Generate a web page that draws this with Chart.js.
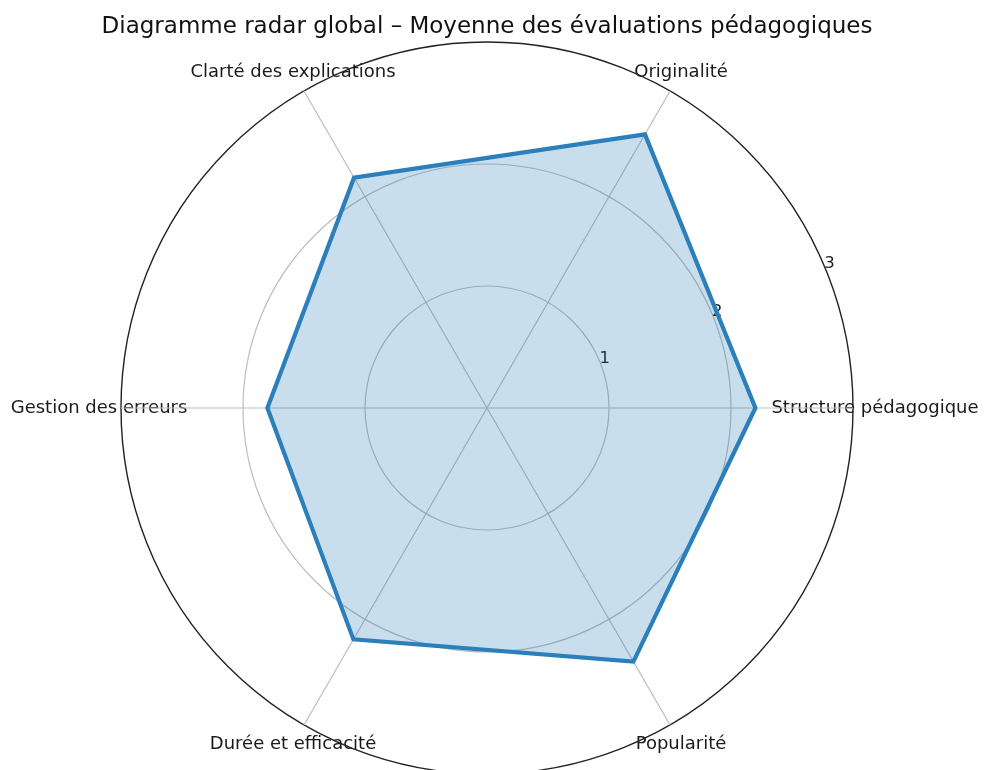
<!DOCTYPE html>
<html>
<head>
<meta charset="utf-8">
<script src="https://cdn.jsdelivr.net/npm/chart.js@4/dist/chart.umd.min.js"></script>
<style>
  html, body { margin: 0; padding: 0; background: #fff; overflow: hidden; }
  #wrap { width: 984px; height: 780px; position: relative; }
</style>
</head>
<body>
<div id="wrap"><canvas id="radar"></canvas></div>
<script>
// categories in matplotlib order (counter-clockwise from the right)
const categories = [
  "Structure pédagogique",
  "Originalité",
  "Clarté des explications",
  "Gestion des erreurs",
  "Durée et efficacité",
  "Popularité"
];
const moyennes = [2.2, 2.59, 2.18, 1.8, 2.19, 2.4];
const tickValues = [1, 2, 3];
const rMax = 3;

// chart.js goes clockwise, so flip the order but keep the first one at the right
const order = [0, 5, 4, 3, 2, 1];
const labels = order.map(i => categories[i]);
const values = order.map(i => moyennes[i]);

const labelFont = '18px "DejaVu Sans", sans-serif';

// axis labels centred on their spoke, like matplotlib does
const spokeLabels = {
  id: "spokeLabels",
  beforeDraw(chart) {
    const scale = chart.scales.r;
    const ctx = chart.ctx;
    ctx.save();
    ctx.font = labelFont;
    ctx.fillStyle = "#1a1a1a";
    ctx.textAlign = "center";
    ctx.textBaseline = "middle";
    labels.forEach((lab, i) => {
      const p = scale.getPointPosition(i, scale.drawingArea + 22);
      ctx.fillText(lab, p.x, p.y);
    });
    ctx.restore();
  }
};

// radial tick numbers at ~22.5 deg
const radialTicks = {
  id: "radialTicks",
  beforeDatasetsDraw(chart) {
    const scale = chart.scales.r;
    const ctx = chart.ctx;
    ctx.save();
    ctx.font = '16.5px "DejaVu Sans", sans-serif';
    ctx.fillStyle = "#1a1a1a";
    ctx.textAlign = "center";
    ctx.textBaseline = "middle";
    tickValues.forEach(v => {
      const d = scale.getDistanceFromCenterForValue(v) + 6;
      const p = scale.getPointPosition(0, d, -23 * Math.PI / 180);
      ctx.fillText(String(v), p.x, p.y + 1);
    });
    ctx.restore();
  }
};

new Chart(document.querySelector("#radar"), {
  type: "radar",
  data: {
    labels: labels,
    datasets: [{
      data: values,
      borderColor: "#2b7fbb",
      backgroundColor: "rgba(31,119,180,0.24)",
      borderWidth: 4.2,
      pointRadius: 0,
      pointHoverRadius: 0,
      fill: true,
      tension: 0
    }]
  },
  options: {
    responsive: true,
    maintainAspectRatio: false,
    animation: false,
    layout: { padding: { left: 0, right: 10, top: 0, bottom: 6 } },
    plugins: {
      legend: { display: false },
      tooltip: { enabled: false },
      title: {
        display: true,
        text: "Diagramme radar global – Moyenne des évaluations pédagogiques",
        color: "#111",
        font: { family: "DejaVu Sans", size: 23, weight: "normal", lineHeight: 1.2 },
        padding: { top: 13, bottom: 1.4 }
      }
    },
    scales: {
      r: {
        min: 0,
        max: rMax,
        startAngle: 90,
        ticks: { stepSize: 1, display: false },
        pointLabels: { display: false },
        grid: {
          circular: true,
          color: c => (c.tick && c.tick.value === rMax ? "#222" : "#bdbdbd"),
          lineWidth: c => (c.tick && c.tick.value === rMax ? 1.4 : 1.2)
        },
        angleLines: { color: "#bdbdbd", lineWidth: 1.2 }
      }
    }
  },
  plugins: [spokeLabels, radialTicks]
});
</script>
</body>
</html>
